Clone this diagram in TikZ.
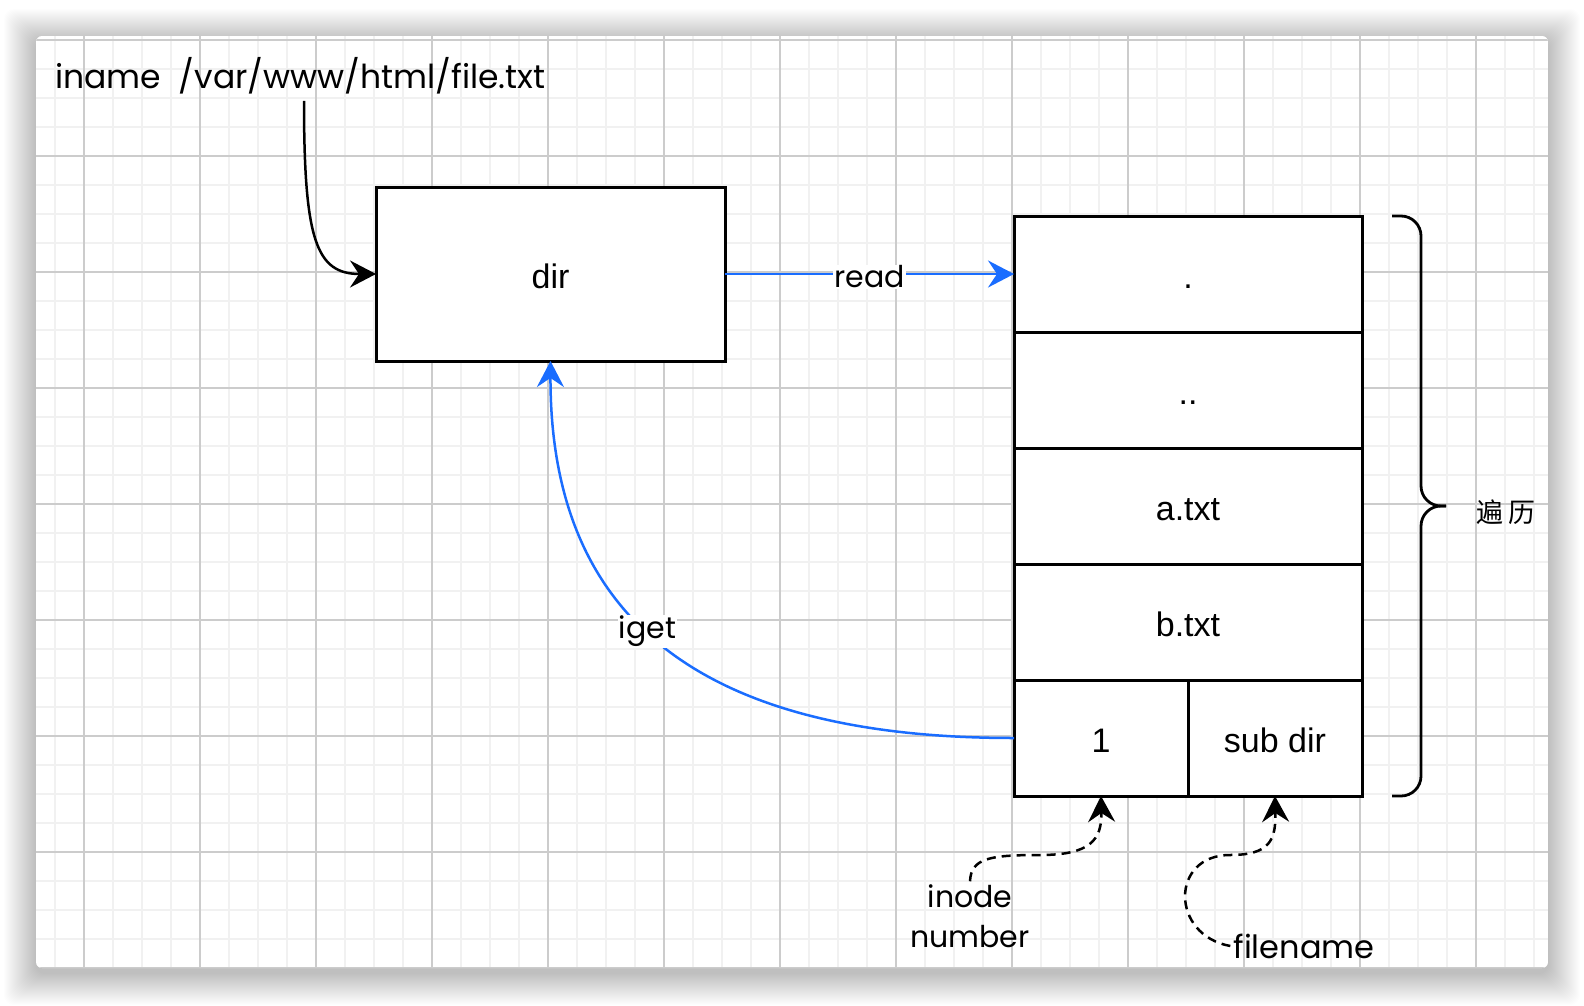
\documentclass[tikz,border=0pt]{standalone}
\usepackage{fontspec}
\setmainfont{Liberation Sans}
\newfontfamily\handfont{Poppins}
\newfontfamily\cjkfont{Noto Sans CJK SC}
\usepackage{xcolor}
\definecolor{DRblue}{HTML}{1A6DFF}
\definecolor{DRmajor}{HTML}{CCCCCC}
\definecolor{DRminor}{HTML}{F1F1F1}
\usetikzlibrary{arrows.meta, positioning, calc}

\begin{document}
\begin{tikzpicture}[
  x=1pt, y=-1pt,
  cell/.style={
    draw=black, line width=3pt, fill=white, inner sep=0pt, outer sep=0pt,
    minimum width=348pt, minimum height=116pt,
    text height=30pt, text depth=2pt,
    font=\fontsize{34}{40}\selectfont
  },
  half/.style={cell, minimum width=174pt},
  hand/.style={font=\handfont\fontsize{30}{40}\selectfont, inner sep=3pt, align=center, text=black},
  tip/.style={-{Stealth[length=26pt, width=27pt, inset=9pt]}, line width=2.5pt},
  bluearrow/.style={tip, color=DRblue},
  blackarrow/.style={tip, color=black},
  hint/.style={tip, color=black, dash pattern=on 9pt off 6pt},
  minorline/.style={DRminor, line width=1.8pt},
  majorline/.style={DRmajor, line width=1.1pt},
]
\useasboundingbox (0,0) rectangle (1584,1006);
\fill[white] (0,0) rectangle (1584,1006);

% Card shadow and grid paper
\foreach \s in {1,...,32}
  \fill[black, opacity=0.006, rounded corners=10pt] (36-\s,36-\s+5) rectangle (1548+\s,968+\s+5);
\begin{scope}
  \clip[rounded corners=6pt] (36,36) rectangle (1548,968);
  \fill[white] (36,36) rectangle (1548,968);
  \foreach \gx in {55,84,...,1548} \draw[minorline] (\gx,36) -- (\gx,968);
  \foreach \gy in {40,69,...,968} \draw[minorline] (36,\gy) -- (1548,\gy);
  \foreach \gx in {84,200,...,1548} \draw[majorline] (\gx,36) -- (\gx,968);
  \foreach \gy in {40,156,...,968} \draw[majorline] (36,\gy) -- (1548,\gy);
\end{scope}

% Path being resolved
\node[hand, anchor=west, inner sep=0pt, font=\handfont\fontsize{33}{38}\selectfont] (iname) at (55,76)
  {iname\ \ /var/www/html/file.txt};
\coordinate (inamefoot) at (304,101);

% Directory inode
\node[cell, minimum width=349pt, minimum height=174pt] (dir) at (550.5,274) {dir};

% Directory entries
\node[cell] (dot) at (1188,274) {.};
\node[cell, below=0pt of dot] (dotdot) {..};
\node[cell, below=0pt of dotdot] (atxt) {a.txt};
\node[cell, below=0pt of atxt] (btxt) {b.txt};
\node[half, below right=0pt and 0pt of btxt.south west] (ino) {1};
\node[half, right=0pt of ino] (sub) {sub dir};

% Brace over the entries
\draw[line width=2.8pt, rounded corners=20pt] (1392,216) -| (1421,506) -- (1446,506);
\draw[line width=2.8pt, rounded corners=20pt] (1446,506) -- (1421,506) |- (1392,796);
\node[font=\cjkfont\fontsize{27}{30}\selectfont] (walk) at (1506,512) {遍\,历};

% Field names
\node[hand] (inode) at (970,916) {inode\\number};
\node[hand, font=\handfont\fontsize{32}{40}\selectfont] (fname) at (1304,946) {filename};

% Arrows
\draw[blackarrow] (inamefoot) .. controls (304,240) and (316,274) .. (dir.west);
\draw[bluearrow] (dir.east) -- node[hand, fill=white, inner sep=1pt, yshift=-3pt]{read} (dot.west);
\draw[bluearrow] (ino.west) .. controls (690,738) and (550,610) .. node[pos=0.53, hand, fill=white, inner sep=1pt]{iget} (dir.south);
\draw[hint] (inode.north) .. controls (971,858) and (990,855) .. (1040,855)
  .. controls (1090,855) and (1102,840) .. (ino.south);
\draw[hint] (fname.west) .. controls (1170,935) and (1170,855) .. (1230,855)
  .. controls (1270,855) and (1276,840) .. (sub.south);

\end{tikzpicture}
\end{document}
